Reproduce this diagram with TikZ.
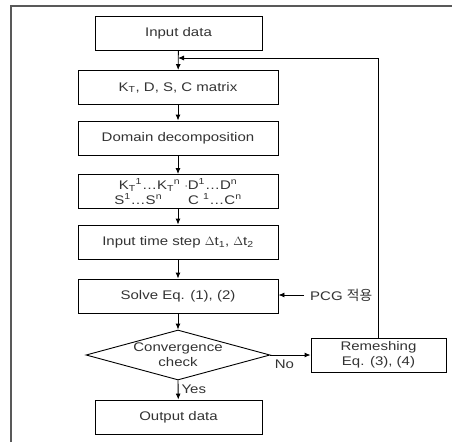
\documentclass[tikz,border=0pt]{standalone}
\usepackage{fontspec}
\setmainfont{Liberation Sans}[FakeStretch=1.2]
\newfontfamily\kofont{Noto Sans CJK KR}[Scale=1.1]
\usepackage{tikz}
\usetikzlibrary{positioning,shapes.geometric,arrows.meta}

\begin{document}
\begin{tikzpicture}[
        x=1pt, y=-1pt,
        box/.style={rectangle, draw=black, line width=0.9pt, minimum width=200pt, minimum height=34pt, inner sep=2pt, align=center},
        endbox/.style={box, minimum width=167pt},
        decision/.style={diamond, draw=black, line width=0.9pt, minimum width=184pt, minimum height=50pt, inner sep=0pt},
        arr/.style={-{Latex[length=6pt,width=5pt]}, line width=0.9pt},
        tag/.style={inner sep=1pt},
        text=black!80,
        font=\fontsize{12.5}{15}\selectfont
    ]
    
    \useasboundingbox (0,0) rectangle (452,442);
    
    % ---------- 테두리 ----------
    \draw[black!65, line width=1.6pt] (11,442) -- (11,6) -- (452,6);
    
    % ---------- 주 흐름 ----------
    \node[endbox] (input)  at (178.5, 33)  {Input data};
    \node[box]    (kmat)   at (178, 87.5)  {K\textsubscript{T}, D, S, C matrix};
    \node[box]    (domain) at (178, 138)   {Domain decomposition};
    \node[box]    (sub)    at (178, 191.5) {K\textsubscript{T}\textsuperscript{1}\ldots K\textsubscript{T}\textsuperscript{n} $\cdot$D\textsuperscript{1}\ldots D\textsuperscript{n}\\S\textsuperscript{1}\ldots S\textsuperscript{n}\hspace{26pt}C \textsuperscript{1}\ldots C\textsuperscript{n}};
    \node[box]    (tstep)  at (178, 242)   {Input time step $\Delta$t\textsubscript{1}, $\Delta$t\textsubscript{2}};
    \node[box]    (solve)  at (178, 296)   {Solve Eq. (1), (2)};
    \node[decision] (conv) at (178, 355)   {};
    \node[align=center] (convtxt) at (conv.center) {Convergence\\check};
    \node[endbox] (output) at (178.5, 417) {Output data};
    
    % ---------- 재분할 ----------
    \node[box, minimum width=135pt] (remesh) at (378.5, 355) {Remeshing\\Eq. (3), (4)};
    \node[tag, anchor=west] (pcg) at (309, 295) {PCG {\kofont 적용}};
    \coordinate (back) at (178, 58);
    
    % ---------- 연결선 ----------
    \draw[arr] (input) -- (kmat);
    \draw[arr] (kmat) -- (domain);
    \draw[arr] (domain) -- (sub);
    \draw[arr] (sub) -- (tstep);
    \draw[arr] (tstep) -- (solve);
    \draw[arr] (solve) -- (conv);
    \draw[arr] (conv.south) -- (output) node[tag, pos=0.45, right=2pt] {Yes};
    \draw[arr] (conv.east) -- (remesh.west) node[tag, pos=0.35, below=3pt] {No};
    \draw[arr] (remesh.north) |- (back);
    \draw[arr] ([xshift=-5pt]pcg.west) -- (solve.east |- pcg.west);
    
    \end{tikzpicture}
\end{document}
